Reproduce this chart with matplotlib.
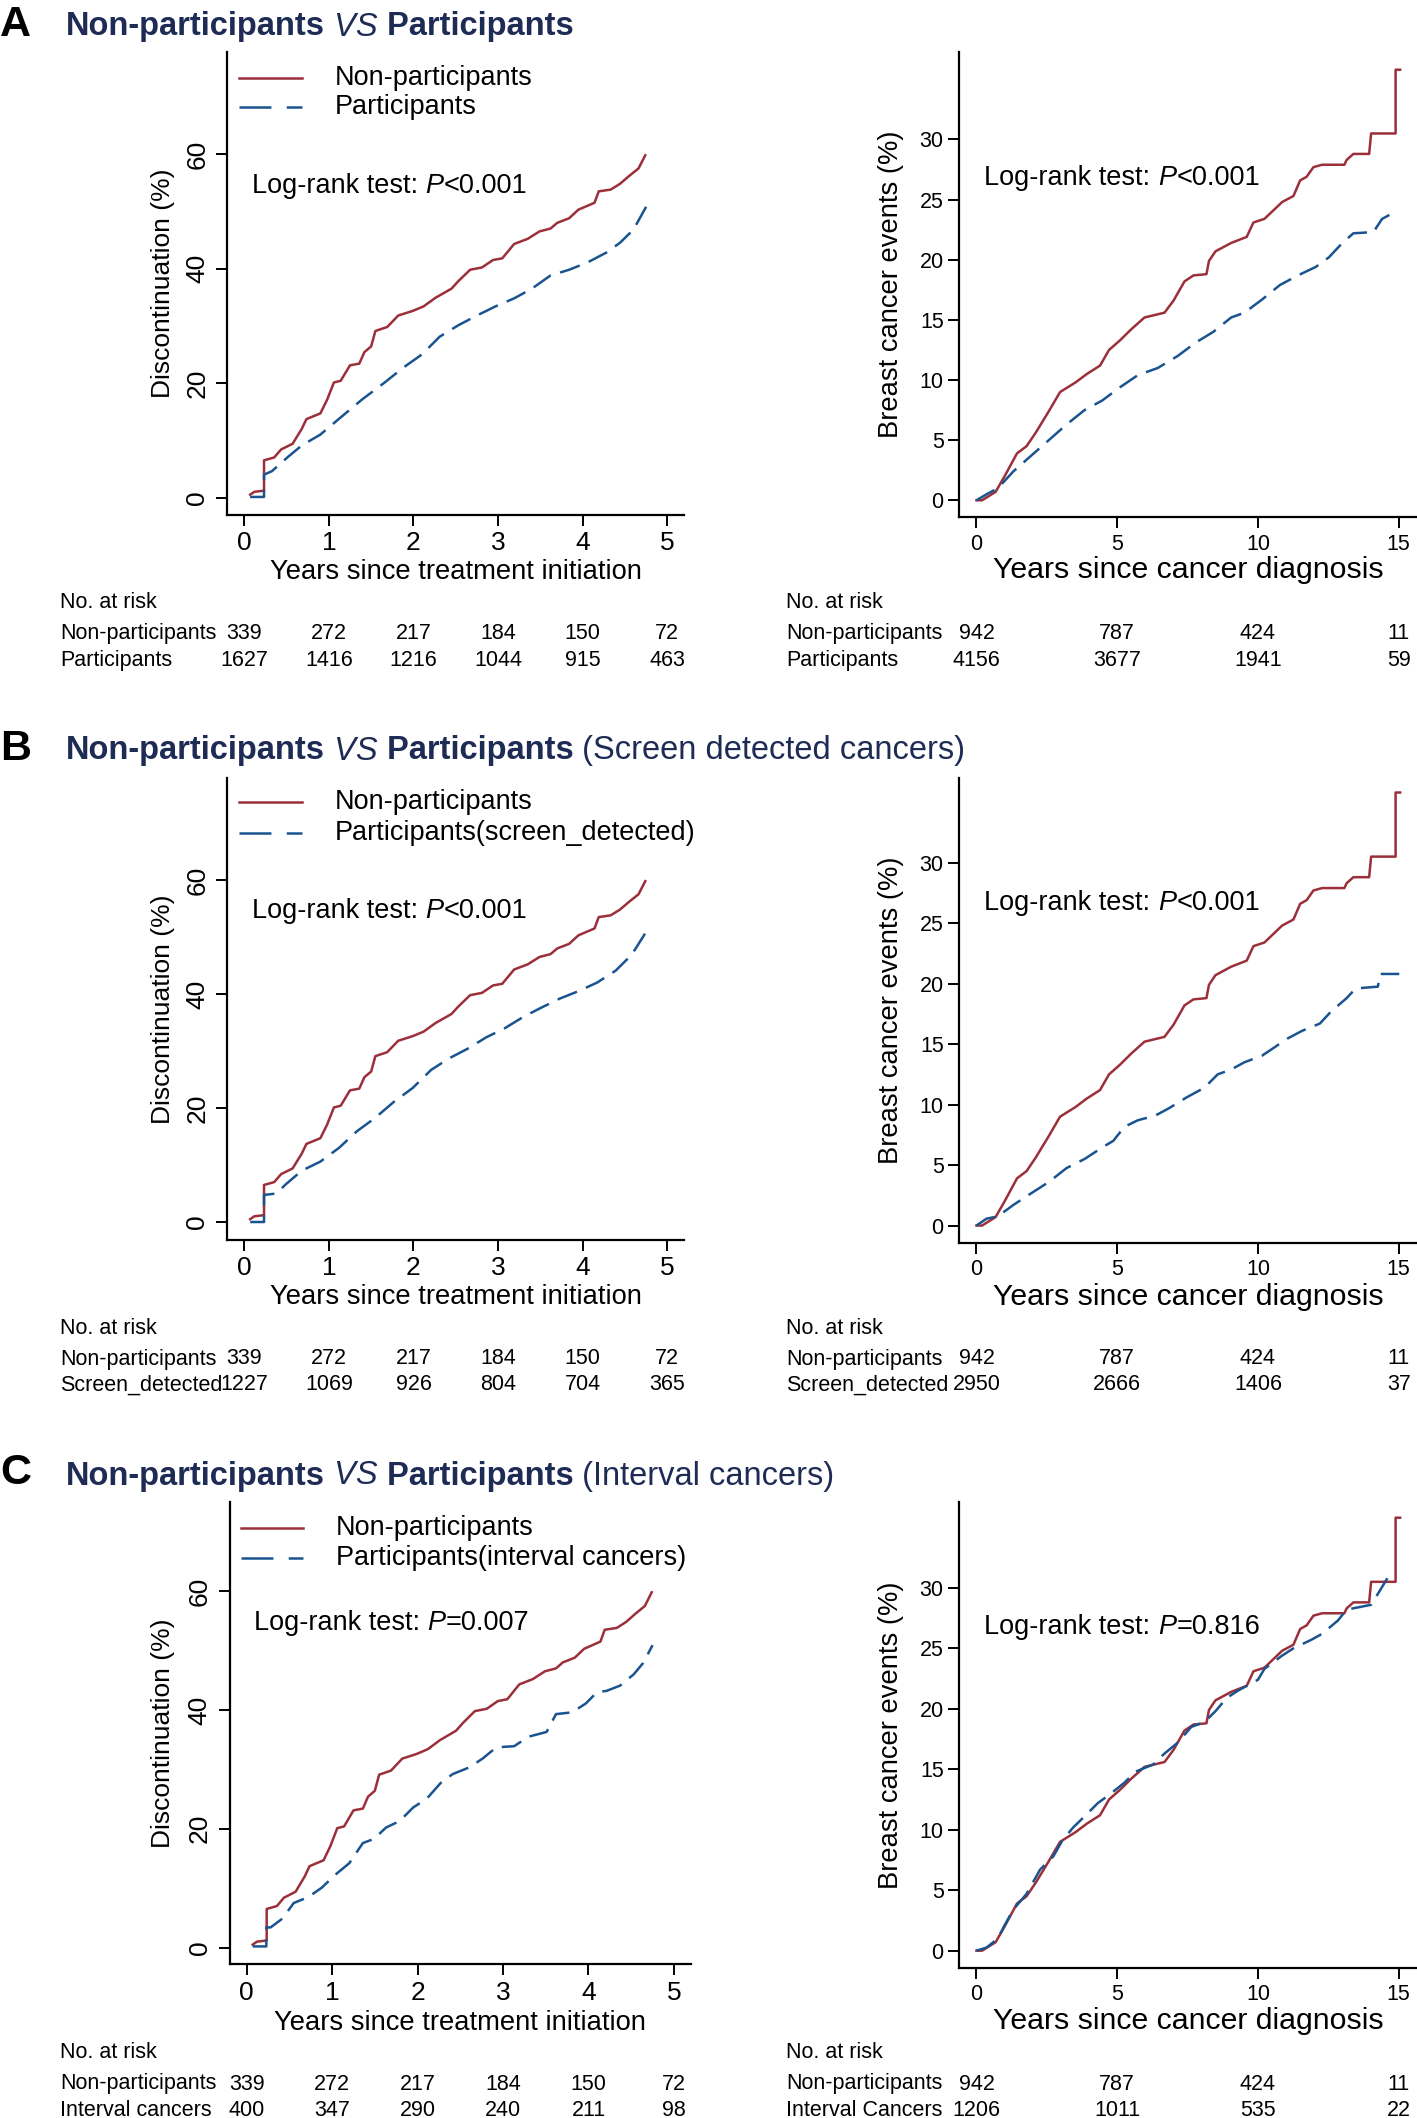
import numpy as np
import matplotlib
matplotlib.use("Agg")
import matplotlib.pyplot as plt
from matplotlib.lines import Line2D
from matplotlib.transforms import blended_transform_factory

plt.rcParams['font.family'] = ['Liberation Sans', 'DejaVu Sans']
plt.rcParams['lines.scale_dashes'] = False

# ---- data ----
# cumulative discontinuation (%) vs years since treatment initiation
red_treat_t = [0.07, 0.12, 0.234, 0.234, 0.354, 0.436, 0.572, 0.68, 0.735, 0.90, 0.98, 1.06, 1.14, 1.25,
               1.36, 1.42, 1.50, 1.55, 1.69, 1.82, 1.99, 2.12, 2.26, 2.45, 2.53, 2.67, 2.81, 2.94, 3.05,
               3.19, 3.35, 3.49, 3.62, 3.70, 3.84, 3.95, 4.14, 4.19, 4.33, 4.44, 4.55, 4.66, 4.74]
red_treat_v = [0.5, 1.0, 1.2, 6.5, 7.0, 8.4, 9.4, 12.0, 13.7, 14.7, 17.1, 20.1, 20.4, 23.1,
               23.4, 25.4, 26.4, 29.1, 29.8, 31.8, 32.6, 33.4, 34.9, 36.5, 37.8, 39.8, 40.2, 41.5, 41.8,
               44.3, 45.2, 46.5, 47.0, 48.0, 48.8, 50.3, 51.5, 53.5, 53.8, 54.8, 56.2, 57.5, 59.8]

part_treat_t = [0.07, 0.234, 0.234, 0.327, 0.517, 0.68, 0.90, 1.14, 1.39, 1.66, 1.88, 2.10, 2.31, 2.53,
                2.75, 2.97, 3.19, 3.40, 3.62, 3.84, 4.06, 4.28, 4.44, 4.60, 4.75]
part_treat_v = [0.1, 0.1, 4.0, 4.6, 7.1, 9.1, 11.0, 14.0, 17.1, 20.1, 22.7, 25.0, 28.1, 30.1,
                31.8, 33.4, 34.8, 36.5, 38.8, 39.8, 41.1, 42.8, 44.5, 46.8, 50.8]

screen_treat_t = [0.07, 0.234, 0.234, 0.38, 0.49, 0.68, 0.90, 1.12, 1.33, 1.55, 1.77, 1.99, 2.21, 2.42,
                  2.64, 2.86, 3.08, 3.30, 3.51, 3.73, 3.95, 4.17, 4.39, 4.58, 4.75]
screen_treat_v = [0.0, 0.0, 4.75, 5.0, 6.6, 9.0, 10.6, 13.0, 15.9, 18.3, 21.1, 23.5, 26.7, 28.7,
                  30.4, 32.4, 34.0, 36.0, 37.6, 39.2, 40.5, 42.0, 44.1, 46.9, 50.9]

interval_treat_t = [0.07, 0.23, 0.23, 0.28, 0.42, 0.55, 0.72, 0.88, 1.04, 1.20, 1.36, 1.49, 1.63, 1.79,
                    1.95, 2.11, 2.27, 2.41, 2.60, 2.76, 2.92, 3.13, 3.30, 3.51, 3.62, 3.81, 3.97, 4.10,
                    4.21, 4.37, 4.53, 4.64, 4.75]
interval_treat_v = [0.2, 0.2, 3.4, 3.4, 4.9, 7.5, 8.5, 10.1, 12.3, 14.2, 17.6, 18.3, 20.2, 21.3,
                    23.6, 25.1, 27.7, 29.2, 30.3, 31.8, 33.7, 33.9, 35.5, 36.3, 39.3, 39.6, 41.1, 43.0,
                    43.2, 44.1, 46.0, 47.9, 50.9]

# breast cancer events (%) vs years since cancer diagnosis
red_diag_t = [0, 0.2, 0.68, 1.0, 1.44, 1.78, 2.10, 2.57, 2.97, 3.52, 3.92, 4.39, 4.71, 5.10, 5.49,
              5.97, 6.68, 7.0, 7.39, 7.71, 8.17, 8.26, 8.49, 9.05, 9.6, 9.84, 10.23, 10.86, 11.26,
              11.5, 11.73, 11.97, 12.28, 13.07, 13.15, 13.39, 13.95, 14.02, 14.89, 14.89, 15.05]
red_diag_v = [0, 0, 0.7, 2.0, 3.9, 4.5, 5.6, 7.4, 9.0, 9.8, 10.5, 11.2, 12.5, 13.3, 14.2,
              15.2, 15.6, 16.6, 18.2, 18.7, 18.8, 19.9, 20.7, 21.4, 21.9, 23.1, 23.4, 24.8, 25.3,
              26.6, 26.9, 27.7, 27.9, 27.9, 28.3, 28.8, 28.8, 30.5, 30.5, 35.8, 35.8]

part_diag_t = [0, 0.36, 0.76, 1.31, 1.94, 2.57, 3.2, 3.84, 4.47, 5.1, 5.73, 6.44, 7.15, 7.78,
               8.41, 9.05, 9.52, 10.15, 10.78, 11.42, 12.05, 12.52, 13.0, 13.39, 14.1, 14.41, 14.97]
part_diag_v = [0, 0.5, 1.0, 2.4, 3.7, 5.0, 6.3, 7.5, 8.3, 9.4, 10.4, 11.0, 12.0, 13.1,
               14.0, 15.2, 15.6, 16.7, 17.9, 18.7, 19.4, 20.2, 21.4, 22.2, 22.3, 23.4, 24.1]

screen_diag_t = [0, 0.36, 0.76, 1.31, 1.94, 2.57, 3.2, 3.84, 4.47, 4.86, 5.26, 5.73, 6.36, 6.84,
                 7.47, 8.1, 8.57, 9.05, 9.52, 10.15, 10.63, 11.0, 11.57, 12.2, 12.6, 13.15, 13.47,
                 14.26, 14.34, 15.02]
screen_diag_v = [0, 0.57, 0.76, 1.7, 2.66, 3.6, 4.75, 5.5, 6.46, 7.0, 8.17, 8.7, 9.1, 9.7,
                 10.6, 11.4, 12.5, 12.9, 13.5, 14.05, 14.8, 15.4, 16.1, 16.7, 17.7, 18.8, 19.6,
                 19.75, 20.8, 20.8]

interval_diag_t = [0, 0.36, 0.76, 1.0, 1.31, 1.78, 2.26, 2.73, 3.05, 3.44, 3.84, 4.31, 4.78, 5.26,
                   5.65, 6.28, 6.68, 7.15, 7.63, 8.1, 8.49, 8.89, 9.29, 10.0, 10.23, 10.86, 11.26,
                   11.89, 12.28, 12.84, 13.15, 14.02, 14.26, 14.65]
interval_diag_v = [0, 0.26, 1.0, 2.1, 3.4, 4.7, 6.7, 7.8, 9.1, 10.2, 11.1, 12.2, 13.0, 13.9,
                   14.8, 15.4, 16.3, 17.2, 18.5, 18.9, 19.8, 20.9, 21.5, 22.4, 23.3, 24.4, 25.0,
                   25.7, 26.2, 27.3, 28.2, 28.6, 29.5, 31.0]

# numbers at risk
treat_times = [0, 1, 2, 3, 4, 5]
diag_times = [0, 5, 10, 15]
risk_non_treat = [339, 272, 217, 184, 150, 72]
risk_part_treat = [1627, 1416, 1216, 1044, 915, 463]
risk_screen_treat = [1227, 1069, 926, 804, 704, 365]
risk_interval_treat = [400, 347, 290, 240, 211, 98]
risk_non_diag = [942, 787, 424, 11]
risk_part_diag = [4156, 3677, 1941, 59]
risk_screen_diag = [2950, 2666, 1406, 37]
risk_interval_diag = [1206, 1011, 535, 22]

panel_letters = ['A', 'B', 'C']
title_suffix = ['', ' (Screen detected cancers)', ' (Interval cancers)']
legend_labels = ['Participants', 'Participants(screen_detected)', 'Participants(interval cancers)']
left_pvalues = ['<0.001', '<0.001', '=0.007']
right_pvalues = ['<0.001', '<0.001', '=0.816']
left_group = ['Participants', 'Screen_detected', 'Interval cancers']
right_group = ['Participants', 'Screen_detected', 'Interval Cancers']

blue_treat = [(part_treat_t, part_treat_v), (screen_treat_t, screen_treat_v), (interval_treat_t, interval_treat_v)]
blue_diag = [(part_diag_t, part_diag_v), (screen_diag_t, screen_diag_v), (interval_diag_t, interval_diag_v)]
risk_treat = [risk_part_treat, risk_screen_treat, risk_interval_treat]
risk_diag = [risk_part_diag, risk_screen_diag, risk_interval_diag]

RED = '#9b2f3a'
BLUE = '#1a5490'
NAVY = '#1e2b55'

# ---- layout (pixel positions, measured from the top) ----
W, H = 1417, 2118
fig = plt.figure(figsize=(W / 100, H / 100), dpi=100)
fig.patch.set_facecolor('white')
renderer = fig.canvas.get_renderer()

title_base = [35.5, 759.5, 1484.5]
left_box = [(227.3, 51.7, 684.2, 514.7), (227.3, 778, 684.2, 1239.5), (229.6, 1502, 691, 1964)]
left_ylim = [(-3.0, 77.9), (-3.07, 77.9), (-2.76, 75.0)]
right_box = [(959, 51.7, 1417, 517), (959, 778, 1417, 1242.6), (959, 1502, 1417, 1967.6)]
right_ylim = [(-1.39, 37.3), (-1.41, 37.0), (-1.40, 37.1)]
legend_rows = [(78, 107), (802, 833), (1528, 1558)]
logrank_left_y = [184, 909, 1621]
logrank_right_y = [176, 901, 1625]
xlabel_left_y = [572, 1297, 2023]
xlabel_right_y = [570, 1297, 2021]
risk_rows = [(602.5, 633.6, 660.6), (1328, 1359, 1385), (2052, 2084, 2110)]
RISK_FS = 15.5


def fxy(x, y):
    return x / W, 1 - y / H


def pieces(x, y, parts, size, color, va='baseline'):
    for s, weight, style in parts:
        t = fig.text(*fxy(x, y), s, fontsize=size, fontweight=weight, fontstyle=style,
                     color=color, va=va, ha='left')
        x = t.get_window_extent(renderer).x1


def km_axes(box, xlim, ylim, xticks, yticks, labelsize):
    l, t, r, b = box
    ax = fig.add_axes([l / W, 1 - b / H, (r - l) / W, (b - t) / H])
    ax.set_xlim(xlim)
    ax.set_ylim(ylim)
    for s in ['top', 'right']:
        ax.spines[s].set_visible(False)
    for s in ['left', 'bottom']:
        ax.spines[s].set_linewidth(1.6)
    ax.set_xticks(xticks)
    ax.set_yticks(yticks)
    ax.tick_params(length=8, width=1.4, direction='out', labelsize=labelsize, colors='black')
    ax.patch.set_visible(False)
    return ax


def risk_table(ax, x_label, rows, group, times, first, second):
    h0, h1, h2 = rows
    tr = blended_transform_factory(ax.transData, fig.transFigure)
    fig.text(*fxy(x_label, h0), 'No. at risk', fontsize=RISK_FS, va='center')
    fig.text(*fxy(x_label, h1), 'Non-participants', fontsize=RISK_FS, va='center')
    fig.text(*fxy(x_label, h2), group, fontsize=RISK_FS, va='center')
    for tt, n1, n2 in zip(times, first, second):
        ax.text(tt, 1 - h1 / H, str(n1), transform=tr, fontsize=RISK_FS, ha='center', va='center')
        ax.text(tt, 1 - h2 / H, str(n2), transform=tr, fontsize=RISK_FS, ha='center', va='center')


for i in range(3):
    # panel heading
    fig.text(*fxy(0, title_base[i]), panel_letters[i], fontsize=31, fontweight='bold',
             va='baseline', ha='left', color='black')
    parts = [('Non-participants', 'bold', 'normal'), (' VS', 'normal', 'italic'),
             (' Participants', 'bold', 'normal')]
    if title_suffix[i]:
        parts.append((title_suffix[i], 'normal', 'normal'))
    pieces(66, title_base[i], parts, 23.5, NAVY)

    # left: discontinuation
    ax = km_axes(left_box[i], (-0.2, 5.2), left_ylim[i], treat_times, [0, 20, 40, 60], 19)
    plt.setp(ax.get_yticklabels(), rotation=90, va='center')
    ax.tick_params(axis='y', pad=5)
    ax.tick_params(axis='x', pad=4)
    ax.plot(red_treat_t, red_treat_v, color=RED, lw=1.8)
    bt, bv = blue_treat[i]
    ax.plot(bt, bv, color=BLUE, lw=1.8, dashes=(15, 7))
    l, t, r, b = left_box[i]
    fig.text(*fxy((l + r) / 2, xlabel_left_y[i]), 'Years since treatment initiation',
             fontsize=19.7, ha='center', va='center')
    fig.text(*fxy(163, (t + b) / 2), 'Discontinuation (%)', fontsize=19,
             rotation=90, ha='center', va='center')
    # legend
    r1, r2 = legend_rows[i]
    lx0, lx1 = (239, 302) if i < 2 else (241, 303)
    fig.add_artist(Line2D([lx0 / W, lx1 / W], [1 - r1 / H] * 2, color=RED, lw=1.8))
    fig.add_artist(Line2D([lx0 / W, lx1 / W], [1 - r2 / H] * 2, color=BLUE, lw=1.8, dashes=(23, 11)))
    fig.text(*fxy(lx1 + 33, r1), 'Non-participants', fontsize=19.5, va='center')
    fig.text(*fxy(lx1 + 33, r2), legend_labels[i], fontsize=19.5, va='center')
    pieces(252 if i < 2 else 254, logrank_left_y[i] + 9,
           [('Log-rank test: ', 'normal', 'normal'), ('P', 'normal', 'italic'),
            (left_pvalues[i], 'normal', 'normal')], 19.5, 'black')
    risk_table(ax, 60, risk_rows[i], left_group[i], treat_times, risk_non_treat, risk_treat[i])

    # right: breast cancer events
    ax = km_axes(right_box[i], (-0.62, 15.65), right_ylim[i], diag_times, [0, 5, 10, 15, 20, 25, 30], 15.5)
    ax.tick_params(axis='y', pad=3)
    ax.tick_params(axis='x', pad=4)
    ax.plot(red_diag_t, red_diag_v, color=RED, lw=1.8)
    bt, bv = blue_diag[i]
    ax.plot(bt, bv, color=BLUE, lw=1.8, dashes=(15, 7))
    l, t, r, b = right_box[i]
    fig.text(*fxy((l + r) / 2, xlabel_right_y[i]), 'Years since cancer diagnosis',
             fontsize=21.8, ha='center', va='center')
    fig.text(*fxy(891, (t + b) / 2), 'Breast cancer events (%)', fontsize=19.7,
             rotation=90, ha='center', va='center')
    pieces(984.5, logrank_right_y[i] + 9,
           [('Log-rank test: ', 'normal', 'normal'), ('P', 'normal', 'italic'),
            (right_pvalues[i], 'normal', 'normal')], 19.5, 'black')
    risk_table(ax, 786, risk_rows[i], right_group[i], diag_times, risk_non_diag, risk_diag[i])

fig.savefig('out.png', dpi=100, facecolor='white')
